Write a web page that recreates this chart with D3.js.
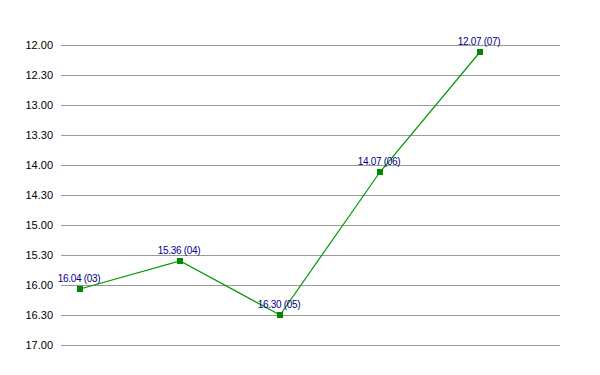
<!DOCTYPE html>
<html>
<head>
  <meta charset="utf-8" />
  <script type="text/javascript" src="https://cdn.jsdelivr.net/npm/d3@7"></script>
  <style type="text/css">
  body {
    margin: 0;
    background: #fff;
    font-family: "Liberation Sans", Arial, sans-serif;
  }
  .grid line {
    stroke: #999;
    stroke-width: 1px;
    shape-rendering: crispedges;
  }
  .tick text {
    font-size: 11px;
    fill: #000;
  }
  .pt-label {
    font-size: 10px;
    letter-spacing: -0.3px;
    fill: #000088;
  }
  </style>
</head>
<body>
  <script type="text/javascript">
    // times as minutes.seconds, with the race number in brackets
    var races = ['03', '04', '05', '06', '07']
    var times = ['16.04', '15.36', '16.30', '14.07', '12.07']
    var ticks = ['12.00', '12.30', '13.00', '13.30', '14.00', '14.30', '15.00', '15.30', '16.00', '16.30', '17.00']

    function secs(t) {
      var p = t.split('.')
      return +p[0] * 60 + +p[1]
    }

    var data = races.map(function(r, i) { return { race: r, time: times[i], s: secs(times[i]) } })

    var w = 600,
        h = 375

    var x = d3.scalePoint().domain(races).range([80, 480])
    var y = d3.scaleLinear().domain([secs('12.00'), secs('17.00')]).range([45, 345])

    var svg = d3.select(document.body)
      .append('svg')
      .attr('width', w)
      .attr('height', h)

    var axis = d3.axisLeft(y)
      .tickValues(ticks.map(secs))
      .tickFormat(function(d, i) { return ticks[i] })
      .tickSize(-(560 - 61))
      .tickPadding(8)

    svg.append('g')
      .attr('class', 'grid')
      .attr('transform', 'translate(61,0)')
      .call(axis)
      .call(function(g) { g.select('.domain').remove() })

    var line = d3.line()
      .x(function(d) { return x(d.race) })
      .y(function(d) { return y(d.s) })

    svg.append('path')
      .datum(data)
      .attr('fill', 'none')
      .attr('stroke', '#009900')
      .attr('stroke-width', 1.2)
      .attr('d', line)

    svg.selectAll('rect.pt')
      .data(data)
    .enter().append('rect')
      .attr('class', 'pt')
      .attr('x', function(d) { return x(d.race) - 3 })
      .attr('y', function(d) { return y(d.s) - 3 })
      .attr('width', 6)
      .attr('height', 6)
      .attr('fill', '#008800')

    svg.selectAll('text.pt-label')
      .data(data)
    .enter().append('text')
      .attr('class', 'pt-label')
      .attr('x', function(d) { return x(d.race) - 1 })
      .attr('y', function(d) { return y(d.s) - 7 })
      .attr('text-anchor', 'middle')
      .text(function(d) { return d.time + ' (' + d.race + ')' })
  </script>
</body>
</html>
